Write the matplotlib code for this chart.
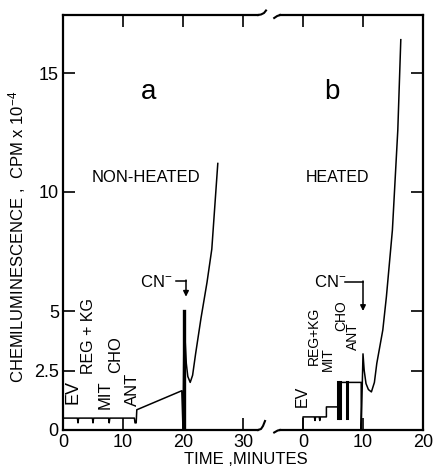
import matplotlib
matplotlib.use("Agg")
import matplotlib.pyplot as plt
from matplotlib.lines import Line2D

plt.rcParams["font.family"] = ["Liberation Sans", "DejaVu Sans"]
plt.rcParams["mathtext.fontset"] = "custom"
plt.rcParams["mathtext.rm"] = "Liberation Sans"
plt.rcParams["mathtext.it"] = "Liberation Sans:italic"
plt.rcParams["mathtext.bf"] = "Liberation Sans:bold"

# panel a - non-heated (time in minutes, cpm x 10^-4)
a_time = [0.0, 2.4, 2.5, 2.6, 4.9, 5.0, 5.1, 7.6, 7.7, 7.8, 11.9, 12.0, 12.2, 12.3,
          19.8, 20.0, 20.2, 20.35, 20.55, 20.8, 21.2, 21.6, 22.1, 23.0, 24.0, 24.8,
          25.8]
a_cpm = [0.5, 0.5, 0.3, 0.5, 0.5, 0.3, 0.5, 0.5, 0.3, 0.5, 0.5, 0.3, 0.3, 0.85,
         1.65, 0.0, 5.0, 3.8, 2.8, 2.25, 2.0, 2.3, 3.2, 4.7, 6.2, 7.6, 11.2]
a_cn_time = 20.1
a_cn_peak = 5.0

# panel b - heated
b_time = [0.0, 0.0, 1.9, 2.0, 2.1, 2.7, 2.8, 2.9, 3.9, 3.9, 5.8, 5.8, 9.7, 9.7,
          10.0, 10.2, 10.5, 10.9, 11.4, 11.9, 12.3, 13.3, 13.9, 14.9, 15.8, 16.3]
b_cpm = [0.0, 0.55, 0.55, 0.4, 0.55, 0.55, 0.4, 0.55, 0.55, 0.97, 0.97, 2.0, 2.0, 0.0,
         3.2, 2.5, 1.95, 1.7, 1.6, 2.0, 2.8, 4.2, 5.6, 8.4, 12.6, 16.4]
b_flash_time = [5.9, 6.2, 7.3]
b_flash_low = 0.5
b_flash_high = 2.0

a_xticks = [0, 10, 20, 30]
b_xticks = [0, 10, 20]
a_yticks = [0, 2.5, 5, 10, 15]
a_yticklabels = ["0", "2.5", "5", "10", "15"]
b_yticks = [2.5, 5, 10, 15]

W, H = 438, 468
fig = plt.figure(figsize=(W / 100, H / 100), dpi=100)
bottom = 38 / H
height = 415 / H
ax_a = fig.add_axes([63 / W, bottom, 195 / W, height])
ax_b = fig.add_axes([280.2 / W, bottom, 142.8 / W, height])

ymax = 415 / 23.8
ax_a.set_xlim(0, 32.5)
ax_b.set_xlim(-3.8, 20)
for ax in (ax_a, ax_b):
    ax.set_ylim(0, ymax)
    for s in ax.spines.values():
        s.set_linewidth(1.6)
    ax.tick_params(direction="in", length=8.5, width=1.2, labelsize=13,
                   top=True, pad=3)

ax_a.spines["right"].set_visible(False)
ax_b.spines["left"].set_visible(False)

ax_a.set_xticks(a_xticks)
ax_a.set_xticklabels([str(t) for t in a_xticks])
ax_a.set_yticks(a_yticks)
ax_a.set_yticklabels(a_yticklabels)
ax_a.tick_params(right=False)

ax_b.set_xticks(b_xticks)
ax_b.set_xticklabels([str(t) for t in b_xticks])
ax_b.set_yticks(b_yticks)
ax_b.tick_params(left=False, right=True, labelleft=False)

# traces
ax_a.plot(a_time, a_cpm, color="black", lw=1.1)
ax_a.plot([a_cn_time, a_cn_time], [0, a_cn_peak], color="black", lw=2.4)
ax_b.plot(b_time, b_cpm, color="black", lw=1.1)
for t in b_flash_time:
    ax_b.plot([t, t], [b_flash_low, b_flash_high], color="black", lw=2.2)

# labels in panel a
ax_a.text(1.7, 1.6, "EV", rotation=90, ha="center", va="center", fontsize=13)
ax_a.text(4.2, 3.95, "REG + KG", rotation=90, ha="center", va="center", fontsize=11.5)
ax_a.text(7.0, 1.5, "MIT", rotation=90, ha="center", va="center", fontsize=12)
ax_a.text(8.7, 3.15, "CHO", rotation=90, ha="center", va="center", fontsize=12)
ax_a.text(11.5, 1.7, "ANT", rotation=90, ha="center", va="center", fontsize=12)
ax_a.text(15.6, 6.2, "CN$^{-}$", ha="center", va="center", fontsize=12)
ax_a.plot([18.8, 20.5], [6.26, 6.26], color="black", lw=1.1)
ax_a.annotate("", xy=(20.5, 5.6), xytext=(20.5, 6.3),
              arrowprops=dict(arrowstyle="-|>", color="black", lw=1.1,
                              mutation_scale=8, shrinkA=0, shrinkB=0))
ax_a.text(14.2, 14.2, "a", ha="center", va="center", fontsize=20)
ax_a.text(13.8, 10.6, "NON-HEATED", ha="center", va="center", fontsize=12)

# labels in panel b
ax_b.text(-0.2, 1.4, "EV", rotation=90, ha="center", va="center", fontsize=11.5)
ax_b.text(1.8, 3.95, "REG+KG", rotation=90, ha="center", va="center", fontsize=10)
ax_b.text(4.2, 3.0, "MIT", rotation=90, ha="center", va="center", fontsize=10)
ax_b.text(6.3, 4.8, "CHO", rotation=90, ha="center", va="center", fontsize=10)
ax_b.text(8.4, 3.95, "ANT", rotation=90, ha="center", va="center", fontsize=10)
ax_b.text(4.5, 6.2, "CN$^{-}$", ha="center", va="center", fontsize=12)
ax_b.plot([7.0, 10.0], [6.22, 6.22], color="black", lw=1.1)
ax_b.annotate("", xy=(10.0, 5.0), xytext=(10.0, 6.26),
              arrowprops=dict(arrowstyle="-|>", color="black", lw=1.1,
                              mutation_scale=8, shrinkA=0, shrinkB=0))
ax_b.text(4.8, 14.2, "b", ha="center", va="center", fontsize=20)
ax_b.text(5.7, 10.6, "HEATED", ha="center", va="center", fontsize=11.5)


def hook(x0, y0, pts):
    xs = [x0 + dx / W for dx, dy in pts]
    ys = [y0 + dy / H for dx, dy in pts]
    fig.add_artist(Line2D(xs, ys, color="black", lw=1.5))


pa = ax_a.get_position()
pb = ax_b.get_position()
hook(pa.x1, pa.y1, [(0, 0), (3, 0.5), (6, 2), (8, 4.5)])
hook(pa.x1, pa.y0, [(0, 0), (3, 1), (5, 4), (7, 9)])
hook(pb.x0, pb.y1, [(-6, -3), (-3, -1), (0, 0)])
hook(pb.x0, pb.y0, [(-6, -2.5), (-2.5, -0.5), (0, 0)])

fig.text(17 / W, 1 - 237 / H, "CHEMILUMINESCENCE ,  CPM x 10$^{-4}$",
         rotation=90, ha="center", va="center", fontsize=12)
fig.text(246 / W, 1 - 460 / H, "TIME ,MINUTES", ha="center", va="center", fontsize=12)

fig.savefig("out.png", dpi=100)
